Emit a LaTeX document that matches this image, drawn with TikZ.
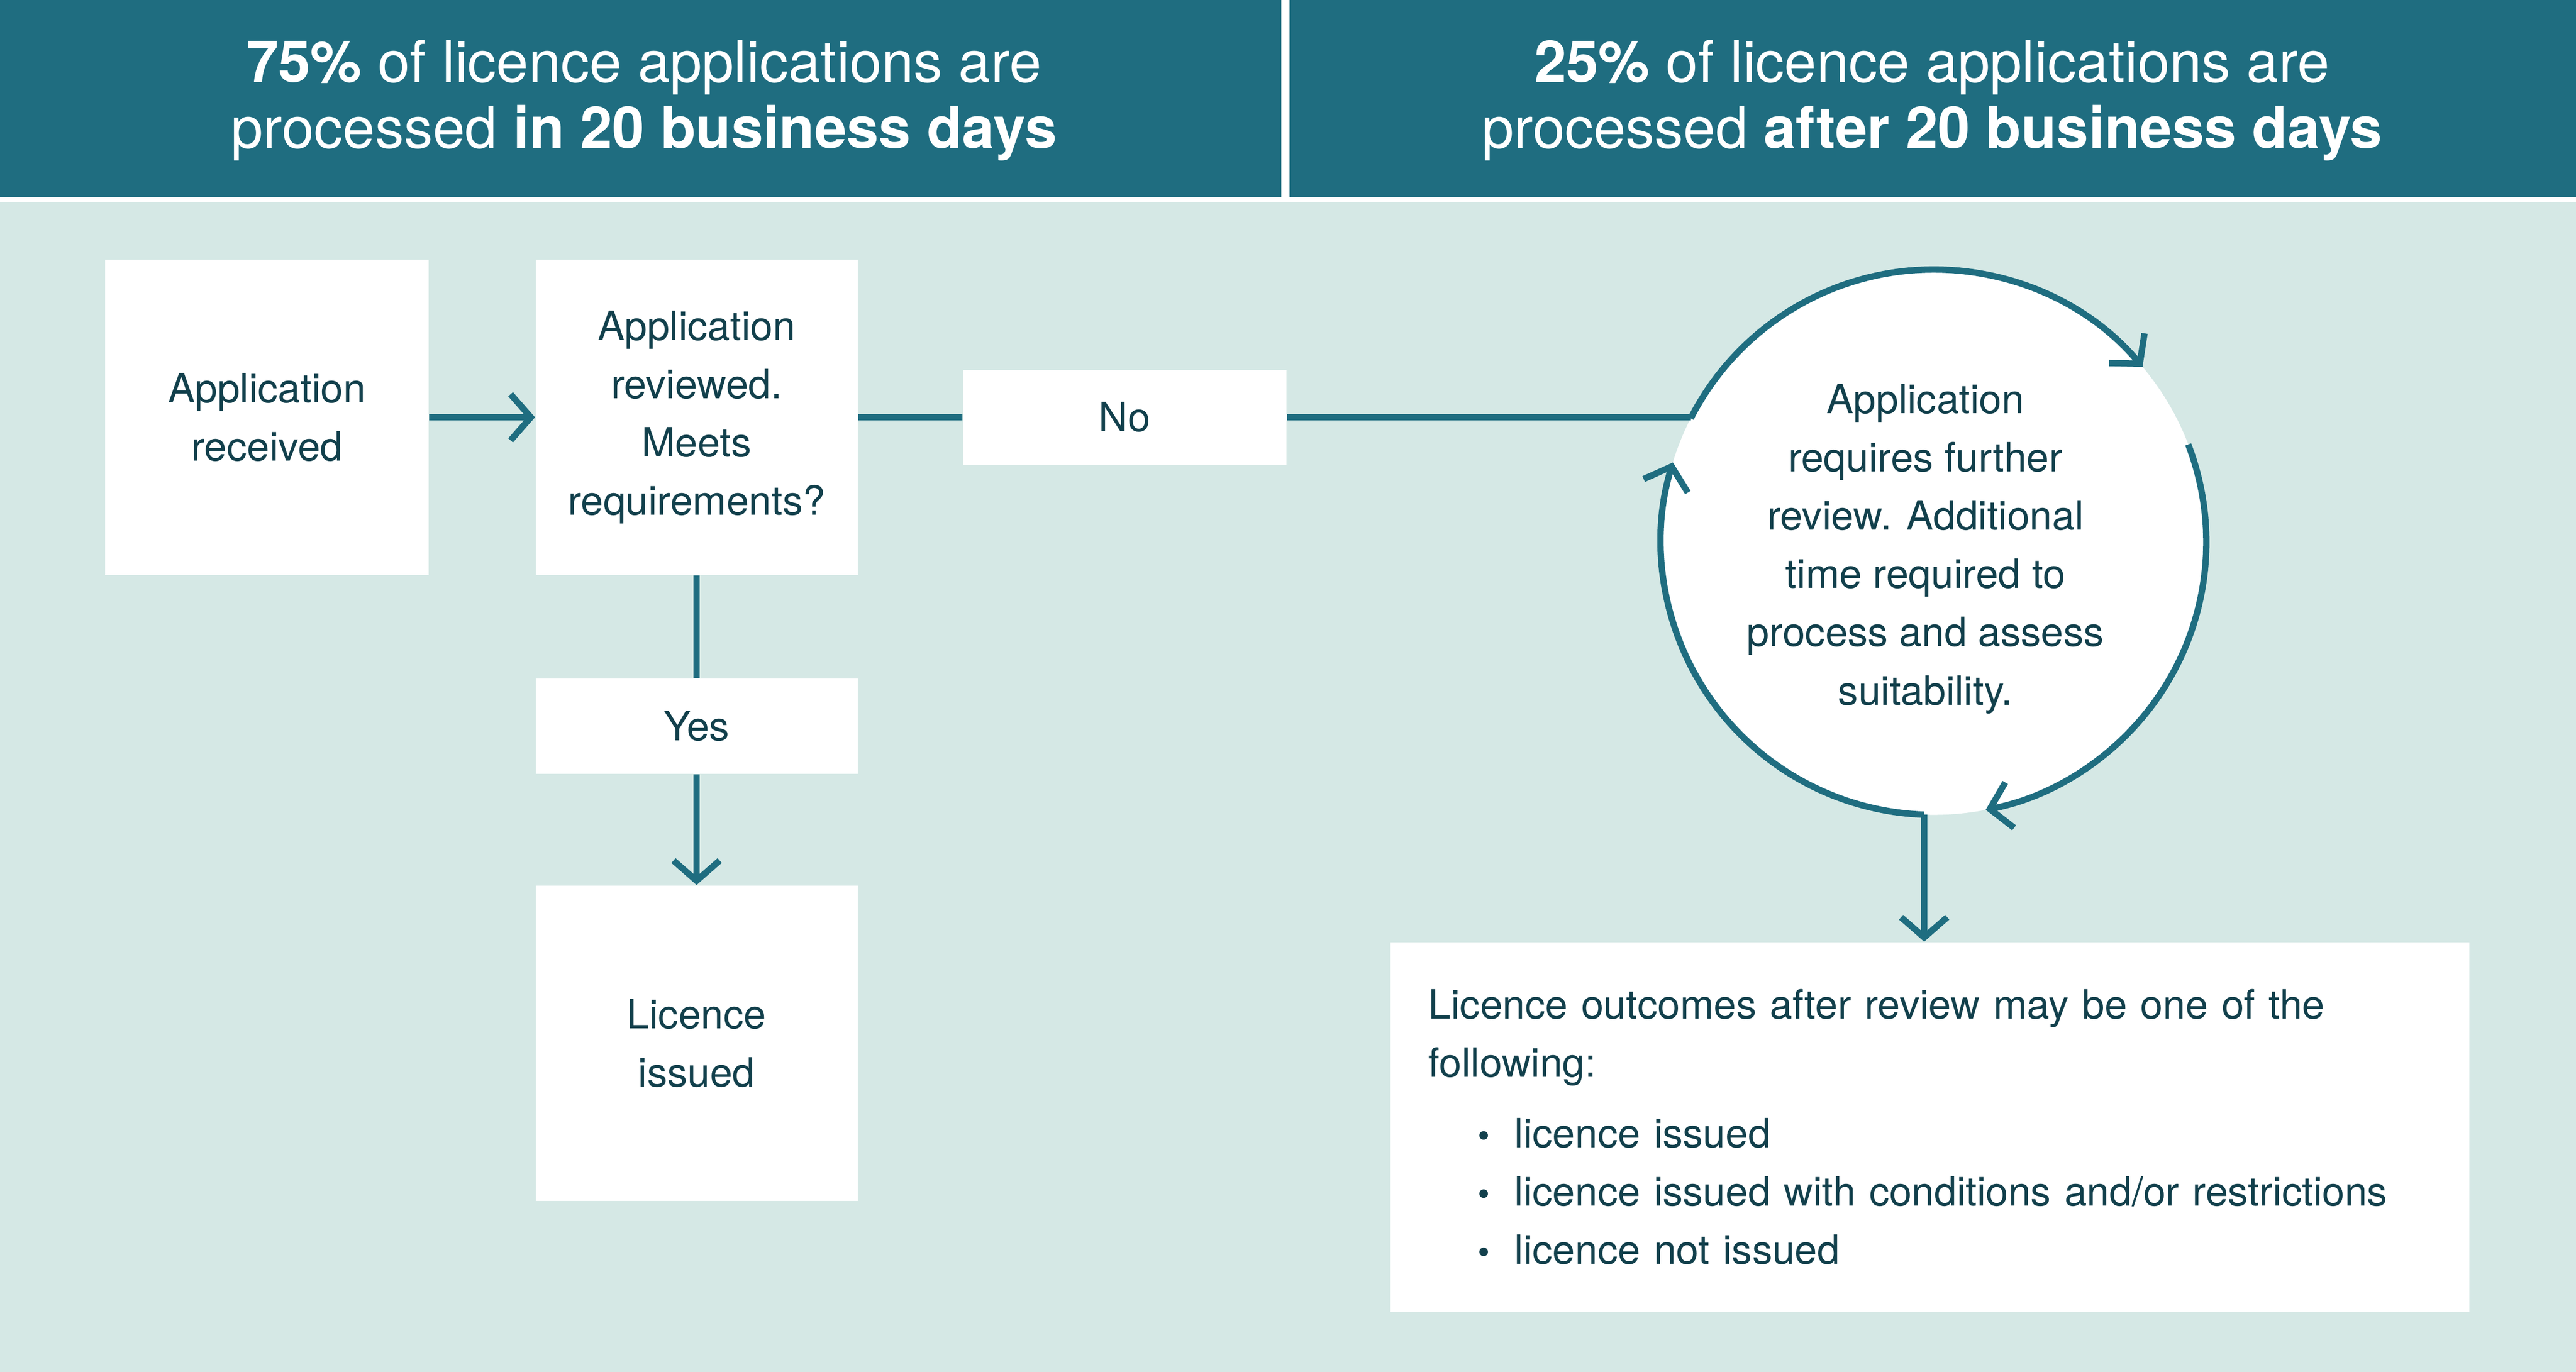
\documentclass[tikz,border=0pt]{standalone}
\usepackage{fontspec}
\setmainfont{TeX Gyre Heros}
\usetikzlibrary{arrows.meta}
\definecolor{headteal}{HTML}{1F6D80}
\definecolor{paleteal}{HTML}{D5E8E5}
\definecolor{inkteal}{HTML}{12404C}
\tikzset{
  box/.style={fill=white,draw=none,align=center,text=inkteal,font=\fontsize{14}{20.2}\selectfont},
  link/.style={draw=headteal,line width=2.2pt},
  tip/.style={-{Straight Barb[length=7pt,width=16pt,line width=2.2pt]}},
}
\newcommand{\itembullet}{\hspace{0.6cm}{\large\textbullet}\hspace{0.3cm}}
\begin{document}
\begin{tikzpicture}[x=0.02cm,y=-0.02cm]
  \useasboundingbox (0,0) rectangle (1568,835);
  \fill[paleteal] (0,123) rectangle (1568,835);
  \fill[headteal] (0,0) rectangle (780,120);
  \fill[headteal] (785,0) rectangle (1568,120);
  \node[align=center,text=white,font=\fontsize{20}{22.8}\selectfont] (headL) at (392,61)
    {\textbf{75\%} of licence applications are\\processed \textbf{in 20 business days}};
  \node[align=center,text=white,font=\fontsize{20}{22.8}\selectfont] (headR) at (1176,61)
    {\textbf{25\%} of licence applications are\\processed \textbf{after 20 business days}};
  % left flow
  \node[box,minimum width=3.94cm,minimum height=3.84cm] (received) at (162.5,254) {Application\\received};
  \node[box,minimum width=3.92cm,minimum height=3.84cm] (reviewed) at (424,254) {Application\\reviewed.\\Meets\\requirements?};
  \node[box,minimum width=3.94cm,minimum height=1.16cm] (no) at (684.5,254) {No};
  \node[box,minimum width=3.92cm,minimum height=1.16cm] (yes) at (424,442) {Yes};
  \node[box,minimum width=3.92cm,minimum height=3.84cm] (issued) at (424,635) {Licence\\issued};
  \draw[link,tip] (received.east) -- (reviewed.west);
  \draw[link] (reviewed.east) -- (no.west);
  \draw[link] (reviewed.south) -- (yes.north);
  \draw[link,tip] (yes.south) -- (issued.north);
  % review loop
  \node[box,circle,minimum size=6.64cm] (loop) at (1177,330) {};
  \node[box,fill=none] (looptext) at (1172,334) {Application\\requires further\\review. Additional\\time required to\\process and assess\\suitability.};
  \coordinate (nojoin) at ([shift={(153:3.32cm)}]loop.center);
  \draw[link] (no.east) -- (no.east -| nojoin);
  \draw[link,tip] (nojoin) arc[start angle=153,end angle=40,radius=3.32cm];
  \draw[link,tip] ([shift={(21:3.32cm)}]loop.center) arc[start angle=21,end angle=-79,radius=3.32cm];
  \draw[link,tip] ([shift={(-92:3.32cm)}]loop.center) arc[start angle=-92,end angle=-197,radius=3.32cm];
  \node[box,align=left,text width=12.2cm,inner sep=0.46cm,minimum width=13.14cm,minimum height=4.5cm] (outcome) at (1174.5,686)
    {Licence outcomes after review may be one of the\\following:\\[0.3em]
     \itembullet licence issued\\
     \itembullet licence issued with conditions and/or restrictions\\
     \itembullet licence not issued};
  \coordinate (loopfoot) at ([shift={(-92:3.32cm)}]loop.center);
  \draw[link,tip] (loopfoot) -- (loopfoot |- outcome.north);
\end{tikzpicture}
\end{document}
